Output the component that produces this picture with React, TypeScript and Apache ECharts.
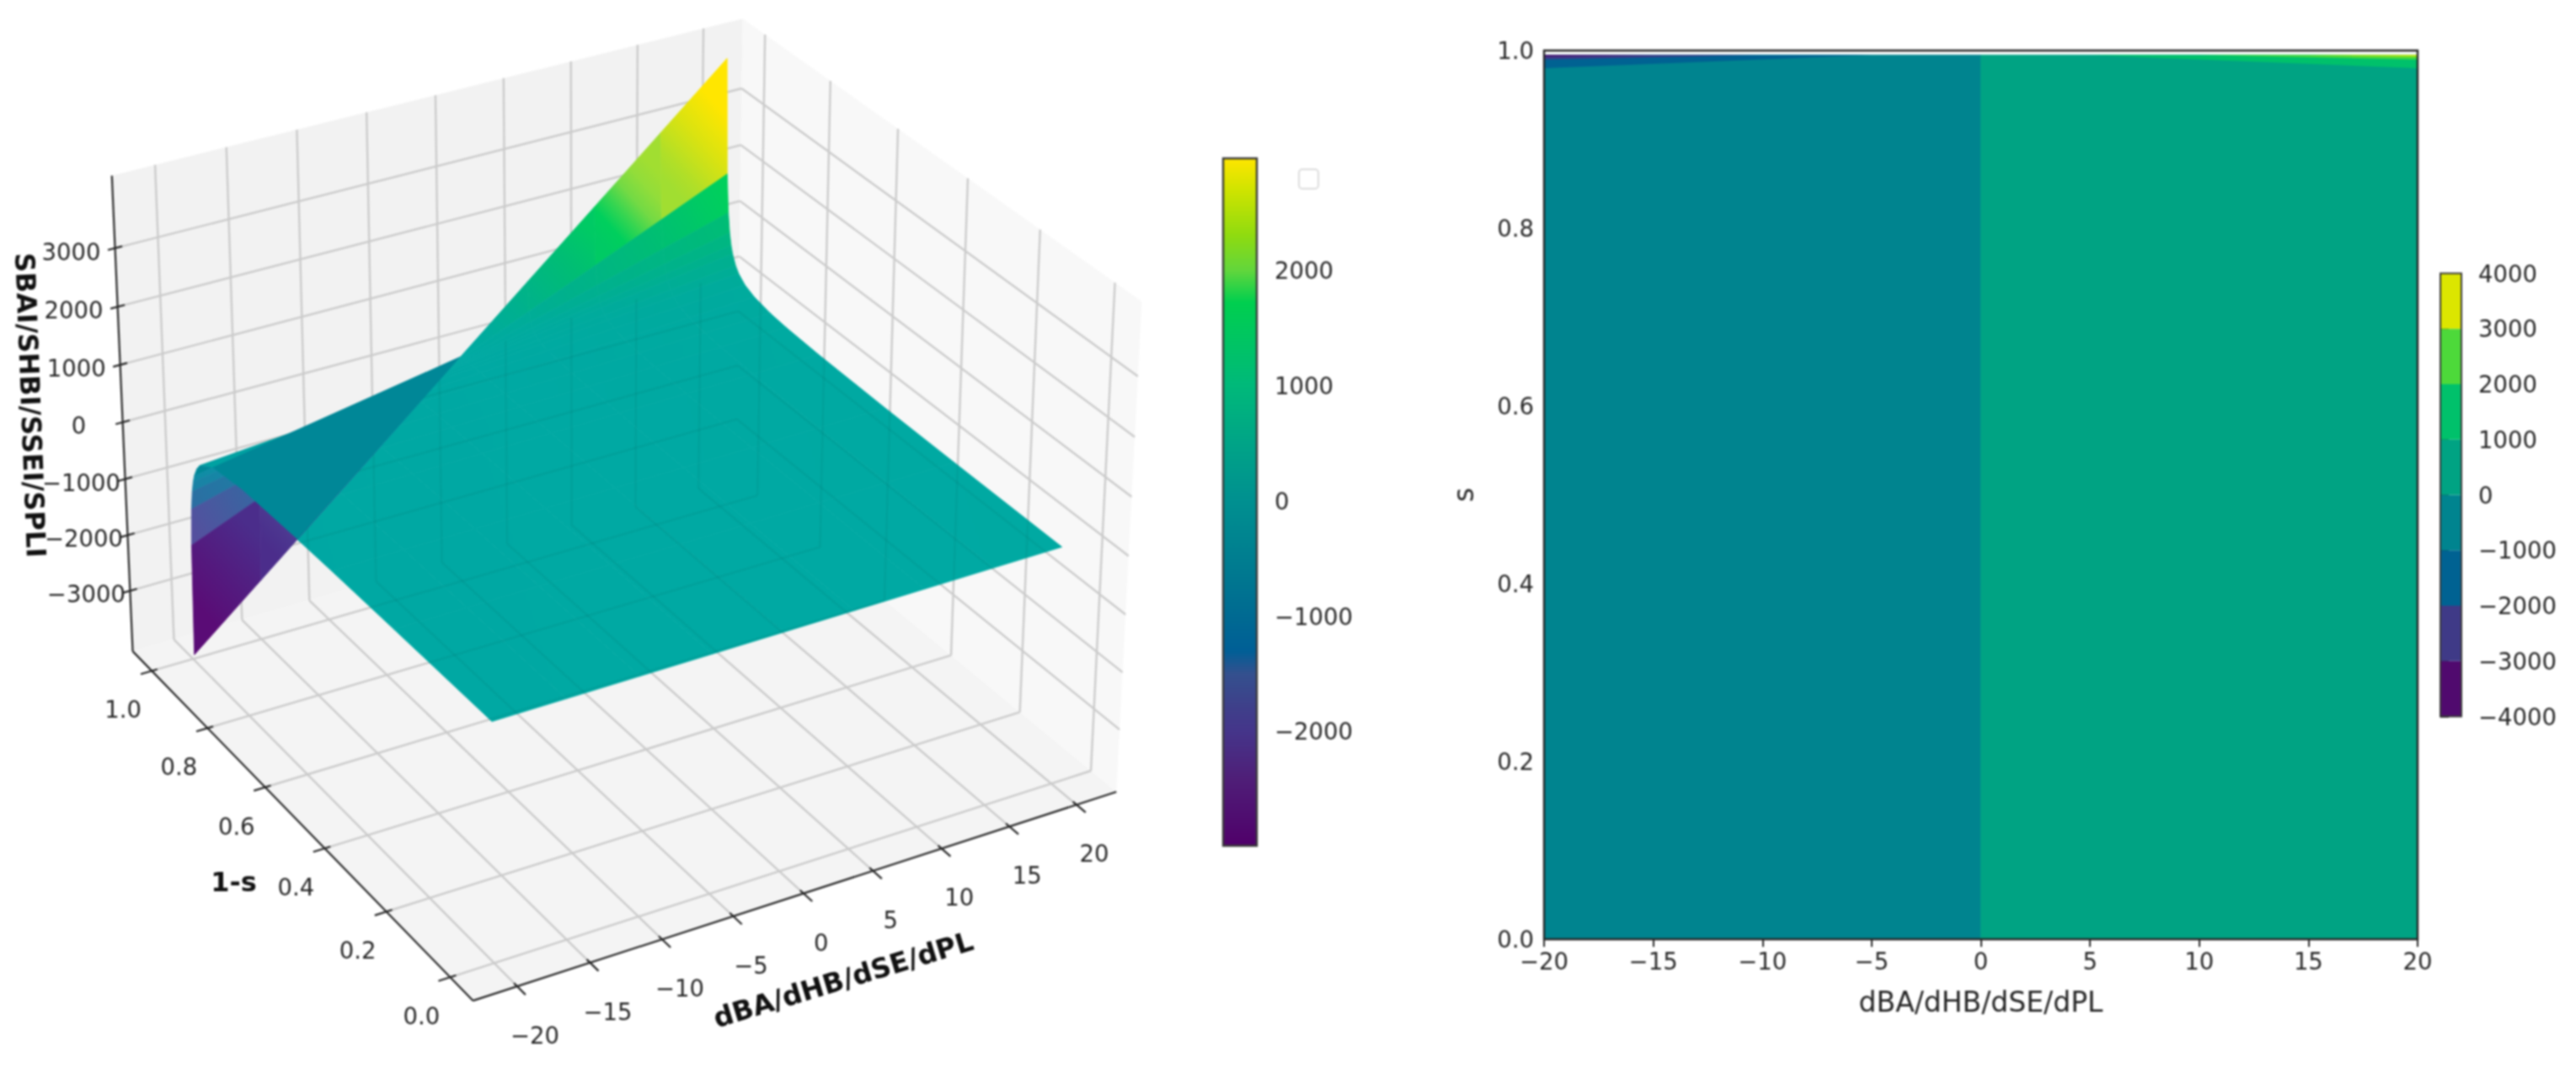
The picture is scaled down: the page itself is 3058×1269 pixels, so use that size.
import { useEffect, useRef } from 'react'
import * as echarts from 'echarts'

// surface mesh
const dValues = [-20, -15, -10, -5, 0, 5, 10, 15, 20]
const tValues = [0, 0.3, 0.5, 0.7, 0.8, 0.85, 0.9, 0.93, 0.95, 0.96, 0.97, 0.975, 0.98, 0.985, 0.99, 0.995]
const surfaceZ = [
  [-20, -15, -10, -5, 0, 5, 10, 15, 20],
  [-29, -21, -14, -7, 0, 7, 14, 21, 29],
  [-40, -30, -20, -10, 0, 10, 20, 30, 40],
  [-67, -50, -33, -17, 0, 17, 33, 50, 67],
  [-100, -75, -50, -25, 0, 25, 50, 75, 100],
  [-133, -100, -67, -33, 0, 33, 67, 100, 133],
  [-200, -150, -100, -50, 0, 50, 100, 150, 200],
  [-286, -214, -143, -71, 0, 71, 143, 214, 286],
  [-400, -300, -200, -100, 0, 100, 200, 300, 400],
  [-500, -375, -250, -125, 0, 125, 250, 375, 500],
  [-667, -500, -333, -167, 0, 167, 333, 500, 667],
  [-800, -600, -400, -200, 0, 200, 400, 600, 800],
  [-1000, -750, -500, -250, 0, 250, 500, 750, 1000],
  [-1333, -1000, -667, -333, 0, 333, 667, 1000, 1333],
  [-2000, -1500, -1000, -500, 0, 500, 1000, 1500, 2000],
  [-4000, -3000, -2000, -1000, 0, 1000, 2000, 3000, 4000]
]
const wallStartRow = 10
// darker part of the left half, behind the ridge
const shadowWedge = [
  [-12.3, 0.995, -2460], [-20, 0.6, -50], [-20, 0.8, -100], [-20, 0.9, -200],
  [-20, 0.95, -400], [-20, 0.97, -667], [0, 0.995, 0]
]
// outline of the see-through flat part
const flatOutline = [
  [-20, 0, -20], [20, 0, 20], [20, 0.8, 100], [20, 0.9, 200], [20, 0.95, 400], [10, 0.97, 333],
  [0, 0.995, 0], [-12.3, 0.995, -2460], [-20, 0.6, -50]
]

// axis ticks of the 3D box
const dTicks = [-20, -15, -10, -5, 0, 5, 10, 15, 20]
const tTicks = [0, 0.2, 0.4, 0.6, 0.8, 1]
const zTicks = [-3000, -2000, -1000, 0, 1000, 2000, 3000]
const dMin = -23
const dMax = 23
const tMin = -0.07
const tMax = 1.07
const zMin = -4100
const zMax = 4220

// contour panel, iso lines as [d, s]
const contourTop = 0.995
const isoNeg1000 = [[-20, 0.98], [-5, 0.995], [-20, 0.995]]
const isoNeg2000 = [[-20, 0.99], [-10, 0.995], [-20, 0.995]]
const isoNeg3000 = [[-20, 0.9933], [-15, 0.995], [-20, 0.995]]
const isoPos1000 = [[20, 0.98], [5, 0.995], [20, 0.995]]
const isoPos2000 = [[20, 0.99], [10, 0.995], [20, 0.995]]
const isoPos3000 = [[20, 0.9933], [15, 0.995], [20, 0.995]]

// colorbars
const contourLevels = [-4000, -3000, -2000, -1000, 0, 1000, 2000, 3000, 4000]
const contourColors = ['#500a6e', '#3f3a87', '#006292', '#00848f', '#00a383', '#00c16b', '#4dd93a', '#dce600']
const barTicks = [-2000, -1000, 0, 1000, 2000]
const barMin = -2990
const barMax = 2970
const barStops: [number, string][] = [
  [-2990, '#50006a'], [-2400, '#4f1f78'], [-2000, '#45358a'], [-1800, '#3f3f8a'], [-1500, '#34508e'],
  [-1300, '#005f96'], [-1000, '#006a92'], [-600, '#007a90'], [0, '#009090'], [500, '#00a487'],
  [1000, '#00b97a'], [1720, '#00cf4f'], [2000, '#62d63c'], [2300, '#8fdb10'], [2700, '#d0e400'], [2970, '#ffe600']
]
const surfaceStops: [number, string][] = [
  [-3000, '#5a0c76'], [-2200, '#4a2f8c'], [-1667, '#54509e'], [-1167, '#2c6ea2'], [-800, '#1488a6'],
  [-300, '#00a0a2'], [0, '#00a9a3'], [300, '#00ab9c'], [700, '#00b28a'], [1167, '#00bd75'],
  [1667, '#00d05c'], [2000, '#88dc40'], [2400, '#b0df28'], [2700, '#dbe310'], [3000, '#ffe600']
]

// measured screen positions that pin down the 3D camera: d, t, z, u, v
const cameraAnchors = [
  [dMin, tMin, zMin, 562, 1189.5], [dMax, tMin, zMin, 1328, 938], [dMin, tMax, zMin, 158, 772],
  [dMax, tMax, zMin, 869, 571], [dMin, tMax, zMax, 133, 210], [dMax, tMax, zMax, 884, 20],
  [dMax, tMin, zMax, 1352, 361], [-20, tMin, zMin, 615, 1171.5], [0, tMin, zMin, 955, 1060],
  [20, tMin, zMin, 1279.5, 953], [dMin, 1, zMin, 182, 798], [dMin, 0.6, zMin, 316, 937],
  [dMin, 0, zMin, 532.5, 1161.5], [dMin, tMax, 3000, 136, 293], [dMin, tMax, -3000, 155, 699],
  [20, 0, 20, 1260, 648], [-20, 0, -20, 582, 855], [20, 0.995, 4000, 868, 68],
  [-20, 0.995, -4000, 231, 773], [0, 0.995, 0, 542, 427]
]

const font = 'DejaVu Sans'
const ink = '#262626'
const gridGrey = '#cbcbcb'

const norm = (d: number, t: number, z: number) => [d / 23, (t - 0.5) / 0.57, z / 4200]

function fitCamera() {
  const n = 11
  const A = Array.from({ length: n }, () => new Array(n + 1).fill(0))
  const addRow = (row: number[], rhs: number) => {
    for (let i = 0; i < n; i++) {
      for (let j = 0; j < n; j++) A[i][j] += row[i] * row[j]
      A[i][n] += row[i] * rhs
    }
  }
  cameraAnchors.forEach(([d, t, z, u, v]) => {
    const [X, Y, Q] = norm(d, t, z)
    addRow([X, Y, Q, 1, 0, 0, 0, 0, -u * X, -u * Y, -u * Q], u)
    addRow([0, 0, 0, 0, X, Y, Q, 1, -v * X, -v * Y, -v * Q], v)
  })
  for (let c = 0; c < n; c++) {
    let best = c
    for (let r = c + 1; r < n; r++) if (Math.abs(A[r][c]) > Math.abs(A[best][c])) best = r
    const tmp = A[c]
    A[c] = A[best]
    A[best] = tmp
    for (let r = 0; r < n; r++) {
      if (r === c) continue
      const f = A[r][c] / A[c][c]
      for (let k = c; k <= n; k++) A[r][k] -= f * A[c][k]
    }
  }
  return A.map((row, i) => row[n] / row[i])
}

const cam = fitCamera()
function project(d: number, t: number, z: number) {
  const [X, Y, Q] = norm(d, t, z)
  const w = cam[8] * X + cam[9] * Y + cam[10] * Q + 1
  return [
    (cam[0] * X + cam[1] * Y + cam[2] * Q + cam[3]) / w,
    (cam[4] * X + cam[5] * Y + cam[6] * Q + cam[7]) / w
  ]
}

function hex(c: string) {
  return [1, 3, 5].map((i) => parseInt(c.slice(i, i + 2), 16))
}
function colorAt(stops: [number, string][], v: number) {
  if (v <= stops[0][0]) return stops[0][1]
  for (let i = 1; i < stops.length; i++) {
    if (v <= stops[i][0]) {
      const k = (v - stops[i - 1][0]) / (stops[i][0] - stops[i - 1][0])
      const a = hex(stops[i - 1][1])
      const b = hex(stops[i][1])
      return `rgb(${a.map((x, n) => Math.round(x + (b[n] - x) * k)).join(',')})`
    }
  }
  return stops[stops.length - 1][1]
}

const line = (a: number[], b: number[], stroke: string, lineWidth: number) => ({
  type: 'line',
  shape: { x1: a[0], y1: a[1], x2: b[0], y2: b[1] },
  style: { stroke, lineWidth }
})

const label = (text: string, p: number[], dx: number, dy: number) => ({
  type: 'text',
  x: p[0] + dx,
  y: p[1] + dy,
  style: { text, fill: ink, font: `27.5px "${font}"`, align: 'center', verticalAlign: 'middle' }
})

const minus = (v: number | string) => String(v).replace('-', '\u2212')

function gridSegments(stroke: string) {
  const seg = (a: number[], b: number[]) =>
    line(project(a[0], a[1], a[2]), project(b[0], b[1], b[2]), stroke, 2.4)
  const out: any[] = []
  dTicks.forEach((d) => {
    out.push(seg([d, tMin, zMin], [d, tMax, zMin]), seg([d, tMax, zMin], [d, tMax, zMax]))
  })
  tTicks.forEach((t) => {
    out.push(seg([dMin, t, zMin], [dMax, t, zMin]), seg([dMax, t, zMin], [dMax, t, zMax]))
  })
  zTicks.forEach((z) => {
    out.push(seg([dMin, tMax, z], [dMax, tMax, z]), seg([dMax, tMax, z], [dMax, tMin, z]))
  })
  return out
}

function renderBox() {
  const quad = (pts: number[][], fill: string) => ({
    type: 'polygon',
    shape: { points: pts.map((p) => project(p[0], p[1], p[2])) },
    style: { fill }
  })
  const children: any[] = [
    quad([[dMin, tMax, zMin], [dMax, tMax, zMin], [dMax, tMax, zMax], [dMin, tMax, zMax]], '#f2f2f2'),
    quad([[dMax, tMax, zMin], [dMax, tMin, zMin], [dMax, tMin, zMax], [dMax, tMax, zMax]], '#f8f8f8'),
    quad([[dMin, tMin, zMin], [dMax, tMin, zMin], [dMax, tMax, zMin], [dMin, tMax, zMin]], '#f4f4f4'),
    ...gridSegments(gridGrey)
  ]
  const axis = (a: number[], b: number[]) => line(a, b, ink, 2.2)
  children.push(
    axis(project(dMin, tMin, zMin), project(dMax, tMin, zMin)),
    axis(project(dMin, tMin, zMin), project(dMin, tMax, zMin)),
    axis(project(dMin, tMax, zMin), project(dMin, tMax, zMax))
  )
  dTicks.forEach((d) => {
    children.push(axis(project(d, tMin - 0.025, zMin), project(d, tMin + 0.01, zMin)))
    children.push(label(minus(d), project(d, tMin, zMin), 21, 58))
  })
  tTicks.forEach((t) => {
    children.push(axis(project(dMin - 0.8, t, zMin), project(dMin + 0.4, t, zMin)))
    children.push(label(t.toFixed(1), project(dMin, t, zMin), -34, 46))
  })
  zTicks.forEach((z) => {
    children.push(axis(project(dMin - 0.5, tMax, z), project(dMin + 0.5, tMax, z)))
    children.push(label(minus(z), project(dMin, tMax, z), -52, 4))
  })
  return { type: 'group', children }
}

// paint order: right half, flat left half, left wall on top of it
type Cell = { i: number; j: number }
const cells: Cell[] = []
const midCol = dValues.indexOf(0)
for (let i = tValues.length - 2; i >= 0; i--) {
  for (let j = midCol; j < dValues.length - 1; j++) cells.push({ i, j })
}
for (let i = wallStartRow - 1; i >= 0; i--) {
  for (let j = 0; j < midCol; j++) cells.push({ i, j })
}
for (let i = wallStartRow; i < tValues.length - 1; i++) {
  for (let j = 0; j < midCol; j++) cells.push({ i, j })
}

function renderCell(params: any) {
  const { i, j } = cells[params.dataIndex]
  const p = (r: number, c: number) => project(dValues[c], tValues[r], surfaceZ[r][c])
  const a = p(i, j)
  const b = p(i, j + 1)
  const c = p(i + 1, j + 1)
  const e = p(i + 1, j)
  const zLeft = (surfaceZ[i][j] + surfaceZ[i + 1][j]) / 2
  const zRight = (surfaceZ[i][j + 1] + surfaceZ[i + 1][j + 1]) / 2
  const colorStops = [0, 0.2, 0.4, 0.6, 0.8, 1].map((offset) => ({
    offset,
    color: colorAt(surfaceStops, zLeft + (zRight - zLeft) * offset)
  }))
  const fill: any = {
    type: 'linear',
    x: (a[0] + e[0]) / 2,
    y: (a[1] + e[1]) / 2,
    x2: (b[0] + c[0]) / 2,
    y2: (b[1] + c[1]) / 2,
    global: true,
    colorStops
  }
  return {
    type: 'polygon',
    shape: { points: [a, b, c, e] },
    style: { fill, stroke: fill, lineWidth: 0.8 }
  }
}

function renderWedge() {
  return {
    type: 'polygon',
    shape: { points: shadowWedge.map((v) => project(v[0], v[1], v[2])) },
    style: { fill: '#008797' }
  }
}

function renderSeeThrough() {
  return {
    type: 'group',
    clipPath: {
      type: 'polygon',
      shape: { points: flatOutline.map((v) => project(v[0], v[1], v[2])) }
    },
    children: gridSegments('rgba(0,50,50,0.07)')
  }
}

function buildOption() {
  const hiddenValue = (gridIndex: number, min: number, max: number, extra = {}) => ({
    type: 'value',
    gridIndex,
    min,
    max,
    show: false,
    ...extra
  })
  const tick = { show: true, length: 9, lineStyle: { color: ink, width: 2 } }
  const axisText = { color: ink, fontFamily: font, fontSize: 27.5 }

  const contourShapes: { points: number[][]; color: string }[] = [
    { points: [[-20, 0], [0, 0], [0, contourTop], [-20, contourTop]], color: contourColors[3] },
    { points: [[0, 0], [20, 0], [20, contourTop], [0, contourTop]], color: contourColors[4] },
    { points: isoNeg1000, color: contourColors[2] },
    { points: isoNeg2000, color: contourColors[1] },
    { points: isoNeg3000, color: contourColors[0] },
    { points: isoPos1000, color: contourColors[5] },
    { points: isoPos2000, color: contourColors[6] },
    { points: isoPos3000, color: contourColors[7] }
  ]

  const bandRect = (api: any, lo: number, hi: number, fill: any) => {
    const a = api.coord([0, hi])
    const b = api.coord([1, lo])
    return { type: 'rect', shape: { x: a[0], y: a[1], width: b[0] - a[0], height: b[1] - a[1] }, style: { fill } }
  }

  return {
    animation: false,
    backgroundColor: '#ffffff',
    grid: [
      { left: 0, top: 0, width: 3058, height: 1269 },
      { left: 1833, top: 60, width: 1037, height: 1055 },
      { left: 1452, top: 188, width: 40, height: 816 },
      { left: 2897, top: 324.5, width: 25, height: 526 }
    ],
    xAxis: [
      hiddenValue(0, 0, 3058),
      {
        type: 'value',
        gridIndex: 1,
        min: -20,
        max: 20,
        interval: 5,
        splitLine: { show: false },
        axisLine: { show: false },
        axisTick: tick,
        axisLabel: { ...axisText, margin: 12, formatter: (v: number) => minus(v) },
        name: 'dBA/dHB/dSE/dPL',
        nameLocation: 'middle',
        nameGap: 58,
        nameTextStyle: { color: ink, fontFamily: font, fontSize: 33 }
      },
      hiddenValue(2, 0, 1),
      hiddenValue(3, 0, 1)
    ],
    yAxis: [
      hiddenValue(0, 0, 1269, { inverse: true }),
      {
        type: 'value',
        gridIndex: 1,
        min: 0,
        max: 1,
        interval: 0.2,
        splitLine: { show: false },
        axisLine: { show: false },
        axisTick: tick,
        axisLabel: { ...axisText, margin: 12, formatter: (v: number) => v.toFixed(1) },
        name: 's',
        nameLocation: 'middle',
        nameGap: 79,
        nameTextStyle: { color: ink, fontFamily: font, fontSize: 33 }
      },
      {
        type: 'value',
        gridIndex: 2,
        position: 'right',
        min: barMin,
        max: barMax,
        splitLine: { show: false },
        axisLine: { show: false },
        axisTick: { ...tick, customValues: barTicks },
        axisLabel: { ...axisText, margin: 21, customValues: barTicks, formatter: (v: number) => minus(v) }
      },
      {
        type: 'value',
        gridIndex: 3,
        position: 'right',
        min: -4000,
        max: 4000,
        interval: 1000,
        splitLine: { show: false },
        axisLine: { show: false },
        axisTick: { ...tick, length: 10 },
        axisLabel: { ...axisText, margin: 20, formatter: (v: number) => minus(v) }
      }
    ],
    graphic: [
      {
        type: 'rect',
        shape: { x: 1542, y: 201, width: 23, height: 23, r: 4 },
        style: { fill: '#ffffff', stroke: '#dcdcdc', lineWidth: 2 }
      },
      {
        type: 'text',
        x: 36,
        y: 481,
        rotation: (-87.8 * Math.PI) / 180,
        style: { text: 'SBAI/SHBI/SSEI/SPLI', fill: '#111', font: `bold 32px "${font}"`, align: 'center', verticalAlign: 'middle' }
      },
      {
        type: 'text',
        x: 277.5,
        y: 1047,
        style: { text: '1-s', fill: '#111', font: `bold 32px "${font}"`, align: 'center', verticalAlign: 'middle' }
      },
      {
        type: 'text',
        x: 1001,
        y: 1163,
        rotation: (17 * Math.PI) / 180,
        style: { text: 'dBA/dHB/dSE/dPL', fill: '#111', font: `bold 32.5px "${font}"`, align: 'center', verticalAlign: 'middle' }
      }
    ],
    series: [
      {
        type: 'custom',
        coordinateSystem: 'cartesian2d',
        xAxisIndex: 0,
        yAxisIndex: 0,
        silent: true,
        clip: false,
        z: 1,
        data: [[0, 0]],
        renderItem: renderBox
      },
      {
        type: 'custom',
        coordinateSystem: 'cartesian2d',
        xAxisIndex: 0,
        yAxisIndex: 0,
        silent: true,
        clip: false,
        z: 2,
        data: cells.map((c) => [c.i, c.j]),
        renderItem: renderCell
      },
      {
        type: 'custom',
        coordinateSystem: 'cartesian2d',
        xAxisIndex: 0,
        yAxisIndex: 0,
        silent: true,
        clip: false,
        z: 3,
        data: [[0, 0]],
        renderItem: renderWedge
      },
      {
        type: 'custom',
        coordinateSystem: 'cartesian2d',
        xAxisIndex: 0,
        yAxisIndex: 0,
        silent: true,
        clip: false,
        z: 3,
        data: [[0, 0]],
        renderItem: renderSeeThrough
      },
      {
        type: 'custom',
        coordinateSystem: 'cartesian2d',
        xAxisIndex: 1,
        yAxisIndex: 1,
        silent: true,
        z: 2,
        data: contourShapes.map((_, i) => [i]),
        renderItem: (params: any, api: any) => {
          const s = contourShapes[params.dataIndex]
          const base = params.dataIndex < 2
          return {
            type: 'polygon',
            shape: { points: s.points.map((p) => api.coord(p)) },
            style: { fill: s.color, stroke: base ? s.color : undefined, lineWidth: base ? 0.8 : 0 }
          }
        }
      },
      {
        type: 'custom',
        coordinateSystem: 'cartesian2d',
        xAxisIndex: 1,
        yAxisIndex: 1,
        silent: true,
        clip: false,
        z: 4,
        data: [[0, 0]],
        renderItem: (_: any, api: any) => {
          const a = api.coord([-20, 1])
          const b = api.coord([20, 0])
          return {
            type: 'rect',
            shape: { x: a[0], y: a[1], width: b[0] - a[0], height: b[1] - a[1] },
            style: { fill: 'none', stroke: ink, lineWidth: 2.4 }
          }
        }
      },
      {
        type: 'custom',
        coordinateSystem: 'cartesian2d',
        xAxisIndex: 2,
        yAxisIndex: 2,
        silent: true,
        clip: false,
        z: 2,
        data: [[0, 0]],
        renderItem: (_: any, api: any) => {
          const colorStops = barStops
            .slice()
            .reverse()
            .map(([v, color]) => ({ offset: (barMax - v) / (barMax - barMin), color }))
          const rect: any = bandRect(api, barMin, barMax, { type: 'linear', x: 0, y: 0, x2: 0, y2: 1, colorStops })
          rect.style.stroke = '#3a3a3a'
          rect.style.lineWidth = 2.4
          return rect
        }
      },
      {
        type: 'custom',
        coordinateSystem: 'cartesian2d',
        xAxisIndex: 3,
        yAxisIndex: 3,
        silent: true,
        clip: false,
        z: 2,
        data: contourColors.map((_, i) => [i]),
        renderItem: (params: any, api: any) => {
          const i = params.dataIndex
          return bandRect(api, contourLevels[i], contourLevels[i + 1], contourColors[i])
        }
      },
      {
        type: 'custom',
        coordinateSystem: 'cartesian2d',
        xAxisIndex: 3,
        yAxisIndex: 3,
        silent: true,
        clip: false,
        z: 3,
        data: [[0, 0]],
        renderItem: (_: any, api: any) => {
          const rect: any = bandRect(api, -4000, 4000, 'none')
          rect.style.stroke = '#3a3a3a'
          rect.style.lineWidth = 2
          return rect
        }
      }
    ]
  }
}

export default function App() {
  const containerRef = useRef<HTMLDivElement>(null)

  useEffect(() => {
    if (!containerRef.current) return
    const instance = echarts.init(containerRef.current, undefined, { renderer: 'svg' })
    instance.setOption(buildOption() as any)
    return () => instance.dispose()
  }, [])

  return (
    <div
      ref={containerRef}
      style={{ position: 'fixed', left: 0, top: 0, width: 3058, height: 1269, filter: 'blur(0.8px)' }}
    />
  )
}
